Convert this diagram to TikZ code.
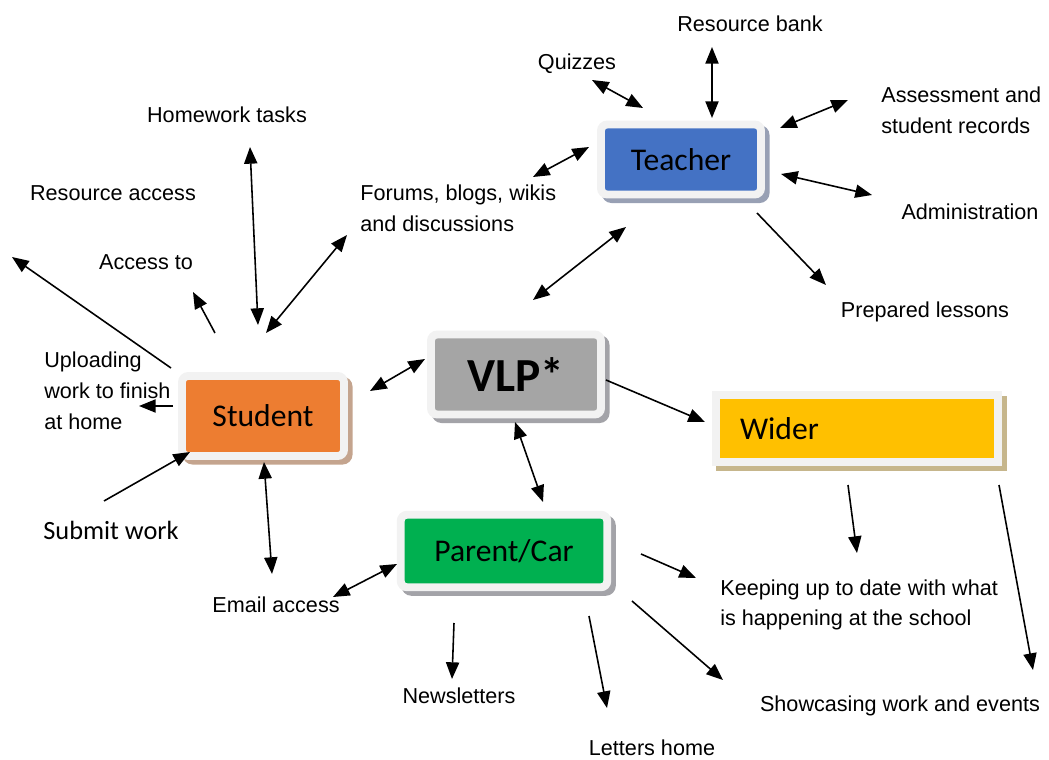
\documentclass[tikz,border=0pt]{standalone}
\usepackage{fontspec}
\setmainfont{Liberation Sans}
\newfontfamily\boxfont{Carlito}
\usepackage{tikz}
\usetikzlibrary{arrows.meta,positioning}

\definecolor{frame}{HTML}{F2F2F2}
\definecolor{teachblue}{HTML}{4472C4}
\definecolor{vlpgray}{HTML}{A5A5A5}
\definecolor{studorange}{HTML}{ED7D31}
\definecolor{parentgreen}{HTML}{00B050}
\definecolor{widergold}{HTML}{FFC000}
\definecolor{shadegray}{HTML}{A3A3A8}
\definecolor{shadeblue}{HTML}{98A0B4}
\definecolor{shadetan}{HTML}{C4A48E}
\definecolor{shadesand}{HTML}{C6B68C}

\tikzset{
  hub/.style 2 args={draw=frame, line width=4.5pt, fill=#1, rounded corners=3.5pt,
    inner sep=0pt, font=\boxfont\fontsize{18}{20}\selectfont,
    preaction={draw=#2, fill=#2, transform canvas={shift={(2.6pt,-2.6pt)}}}},
  leaf/.style={inner sep=0pt, font=\fontsize{12.3}{17.5}\selectfont},
  link/.style={->, line width=0.9pt},
  dlink/.style={<->, line width=0.9pt},
  >={Triangle[length=9.5pt,width=7.5pt]}
}

\begin{document}
\begin{tikzpicture}[x=0.02cm, y=-0.02cm]
  \useasboundingbox (0,0) rectangle (1049,760);

  % main boxes
  \node[hub={teachblue}{shadeblue}, minimum width=3.2cm, minimum height=1.4cm] (teacher) at (681,159.5) {Teacher};
  \node[hub={vlpgray}{shadegray}, minimum width=3.4cm, minimum height=1.6cm,
        font=\boxfont\bfseries\fontsize{27}{29}\selectfont] (vlp) at (516,374.5) {VLP*};
  \node[hub={studorange}{shadetan}, minimum width=3.24cm, minimum height=1.6cm] (student) at (263,416) {Student};
  \node[hub={parentgreen}{shadegray}, minimum width=4.13cm, minimum height=1.45cm] (parent) at (504,551) {Parent/Car};
  \node[hub={widergold}{shadesand}, rounded corners=0pt, minimum width=5.65cm, minimum height=1.34cm,
        text width=4.68cm, align=left] (wider) at (857,428.5) {Wider};

  % teacher side
  \node[leaf] (quiz) at (577,64) {Quizzes};
  \node[leaf] (bank) at (750,24) {Resource bank};
  \node[leaf, anchor=west, align=left] (assess) at (881,110) {Assessment and\\student records};
  \node[leaf] (admin) at (970,212) {Administration};
  \node[leaf] (lessons) at (925,312) {Prepared lessons};
  \node[leaf, anchor=west, align=left] (forums) at (360,208) {Forums, blogs, wikis\\and discussions};

  % student side
  \node[leaf] (homework) at (227,115) {Homework tasks};
  \node[leaf] (resacc) at (113,193) {Resource access};
  \node[leaf] (access) at (146,262) {Access to};
  \node[leaf, anchor=west, align=left] (upload) at (44,391) {Uploading\\work to finish\\at home};
  \node[leaf, font=\boxfont\fontsize{15}{17}\selectfont] (submit) at (111,530) {Submit work};
  \node[leaf] (email) at (276,605) {Email access};

  % parent and wider side
  \node[leaf] (news) at (459,696) {Newsletters};
  \node[leaf] (letters) at (652,748) {Letters home};
  \node[leaf] (show) at (900,706) {Showcasing work and events};
  \node[leaf, anchor=west, align=left] (keep) at (720,605) {Keeping up to date with what\\is happening at the school};

  % arrow ends
  \coordinate (q1) at (592,80);   \coordinate (q2) at (643,108);
  \coordinate (b1) at (712,47);   \coordinate (b2) at (712,118);
  \coordinate (a1) at (780,128);  \coordinate (a2) at (848,100);
  \coordinate (d1) at (781,174);  \coordinate (d2) at (872,195);
  \coordinate (l1) at (757,213);  \coordinate (l2) at (826,285);
  \coordinate (f1) at (533,177);  \coordinate (f2) at (589,147);
  \coordinate (vt1) at (533,300); \coordinate (vt2) at (626,227);
  \coordinate (h1) at (250,147);  \coordinate (h2) at (258,325);
  \coordinate (sf1) at (266,333); \coordinate (sf2) at (347,235);
  \coordinate (r1) at (171,368);  \coordinate (r2) at (12,257);
  \coordinate (c1) at (215,333);  \coordinate (c2) at (193,292);
  \coordinate (u1) at (173,406);  \coordinate (u2) at (139,406);
  \coordinate (s1) at (104,501);  \coordinate (s2) at (190,452);
  \coordinate (e1) at (264,462);  \coordinate (e2) at (272,574);
  \coordinate (vs1) at (370,391); \coordinate (vs2) at (425,359);
  \coordinate (vw1) at (606,380); \coordinate (vw2) at (705,422);
  \coordinate (vp1) at (515,422); \coordinate (vp2) at (543,502);
  \coordinate (pe1) at (333,597); \coordinate (pe2) at (397,564);
  \coordinate (n1) at (454,623);  \coordinate (n2) at (452,679);
  \coordinate (lh1) at (589,616); \coordinate (lh2) at (607,708);
  \coordinate (ps1) at (632,601); \coordinate (ps2) at (723,680);
  \coordinate (k1) at (641,554);  \coordinate (k2) at (696,578);
  \coordinate (wk1) at (848,485); \coordinate (wk2) at (857,553);
  \coordinate (ws1) at (999,485); \coordinate (ws2) at (1033,670);

  % connectors
  \draw[dlink] (q1) -- (q2);
  \draw[dlink] (b1) -- (b2);
  \draw[dlink] (a1) -- (a2);
  \draw[dlink] (d1) -- (d2);
  \draw[link] (l1) -- (l2);
  \draw[dlink] (f1) -- (f2);
  \draw[dlink] (vt1) -- (vt2);

  \draw[dlink] (h1) -- (h2);
  \draw[dlink] (sf1) -- (sf2);
  \draw[link] (r1) -- (r2);
  \draw[link] (c1) -- (c2);
  \draw[link] (u1) -- (u2);
  \draw[link] (s1) -- (s2);
  \draw[dlink] (e1) -- (e2);
  \draw[dlink] (vs1) -- (vs2);

  \draw[link] (vw1) -- (vw2);
  \draw[dlink] (vp1) -- (vp2);
  \draw[dlink] (pe1) -- (pe2);
  \draw[link] (n1) -- (n2);
  \draw[link] (lh1) -- (lh2);
  \draw[link] (ps1) -- (ps2);
  \draw[link] (k1) -- (k2);
  \draw[link] (wk1) -- (wk2);
  \draw[link] (ws1) -- (ws2);
\end{tikzpicture}
\end{document}
